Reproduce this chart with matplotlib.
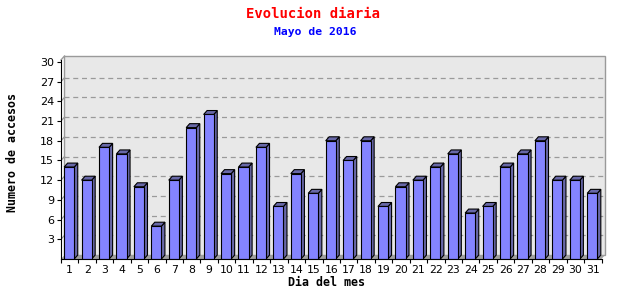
import matplotlib
matplotlib.use("Agg")
import matplotlib.pyplot as plt
from matplotlib.patches import Polygon, Rectangle
import numpy as np

days = [str(d) for d in range(1, 32)]
visits = [14, 12, 17, 16, 11, 5, 12, 20, 22, 13, 14, 17, 8, 13, 10, 18,
          15, 18, 8, 11, 12, 14, 16, 7, 8, 14, 16, 18, 12, 12, 10]
yticks = [3, 6, 9, 12, 15, 18, 21, 24, 27, 30]

title = "Evolucion diaria"
subtitle = "Mayo de 2016"
xlabel = "Dia del mes"
ylabel = "Numero de accesos"

FRONT = "#8484ff"
DARK = "#6868a8"
WALL = "#e8e8e8"
GRIDC = "#9a9a9a"
FLOOR = "#a0a0a0"
mono = ["DejaVu Sans Mono"]

fig = plt.figure(figsize=(6.4, 3.0), dpi=100)
W, H = 640, 300
ax_l, ax_r, ax_t, ax_b = 61, 605, 56, 259
ax = fig.add_axes([ax_l / W, (H - ax_b) / H, (ax_r - ax_l) / W, (ax_b - ax_t) / H])

n = len(visits)
ddx = 0.2
ddy = 0.6
xmin, xmax = 0.5, n + 0.5 + ddx
ymax = 30 + ddy + 0.3
ax.set_xlim(xmin, xmax)
ax.set_ylim(0, ymax)
ax.set_facecolor("white")

# back wall
ax.add_patch(Rectangle((0.5 + ddx, ddy), n, ymax - ddy, facecolor=WALL,
                       edgecolor=GRIDC, linewidth=1.0, zorder=0.5, clip_on=False))
# floor
ax.add_patch(Polygon([(0.5, 0), (n + 0.5, 0), (n + 0.5 + ddx, ddy), (0.5 + ddx, ddy)],
                     closed=True, facecolor=FLOOR, edgecolor="none", zorder=0.6))
# left wall top corner line
ax.plot([0.5, 0.5 + ddx], [30.3, ymax], color=GRIDC, lw=1.0, zorder=0.7, clip_on=False)

# grid lines on back wall + short diagonal on side wall
for v in yticks[:-1]:
    ax.plot([0.5 + ddx, n + 0.5 + ddx], [v + ddy, v + ddy], color=GRIDC, lw=0.9,
            dashes=(4, 3), zorder=0.8)
    ax.plot([0.5, 0.5 + ddx], [v, v + ddy], color=GRIDC, lw=0.9, zorder=0.8)

x = np.arange(1, n + 1)
bars = ax.bar(x - 0.03, visits, width=0.58, color=FRONT, edgecolor="black",
              linewidth=0.8, zorder=3)
for b in bars:
    x0, w, h = b.get_x(), b.get_width(), b.get_height()
    side = Polygon([(x0 + w, 0), (x0 + w + ddx, ddy), (x0 + w + ddx, h + ddy), (x0 + w, h)],
                   closed=True, facecolor=DARK, edgecolor="black", linewidth=0.8, zorder=2.9)
    top = Polygon([(x0, h), (x0 + w, h), (x0 + w + ddx, h + ddy), (x0 + ddx, h + ddy)],
                  closed=True, facecolor=DARK, edgecolor="black", linewidth=0.8, zorder=2.9)
    ax.add_patch(side)
    ax.add_patch(top)

for s in ["top", "right"]:
    ax.spines[s].set_visible(False)
ax.spines["left"].set_bounds(0, 30.3)
ax.spines["bottom"].set_bounds(0.5, n + 0.5)
ax.spines["left"].set_color("black")
ax.spines["bottom"].set_color("black")
ax.spines["left"].set_zorder(5)
ax.spines["bottom"].set_zorder(5)

ax.set_yticks(yticks)
ax.set_yticklabels([str(v) for v in yticks])
ax.tick_params(axis="y", direction="out", length=3, width=0.8, labelsize=8, pad=2)

ax.set_xticks(np.arange(0.5, n + 1.0, 1.0))
ax.set_xticklabels([])
ax.set_xticks(x, minor=True)
ax.set_xticklabels(days, minor=True)
ax.tick_params(axis="x", which="major", direction="out", length=3, width=0.8)
ax.tick_params(axis="x", which="minor", length=0, labelsize=7.8, pad=4)

fig.text(313 / W, 1 - 14 / H, title, color="#ff0000", family=mono, weight="bold",
         fontsize=10, ha="center", va="center")
fig.text(315 / W, 1 - 32 / H, subtitle, color="#0000ff", family=mono, weight="bold",
         fontsize=8.2, ha="center", va="center")
fig.text(326 / W, 1 - 282 / H, xlabel, color="black", family=mono, weight="bold",
         fontsize=8.4, ha="center", va="center")
fig.text(13 / W, 1 - 152 / H, ylabel, color="black", family=mono, weight="bold",
         fontsize=8.4, ha="center", va="center", rotation=90)

fig.savefig("out.png", dpi=100)
